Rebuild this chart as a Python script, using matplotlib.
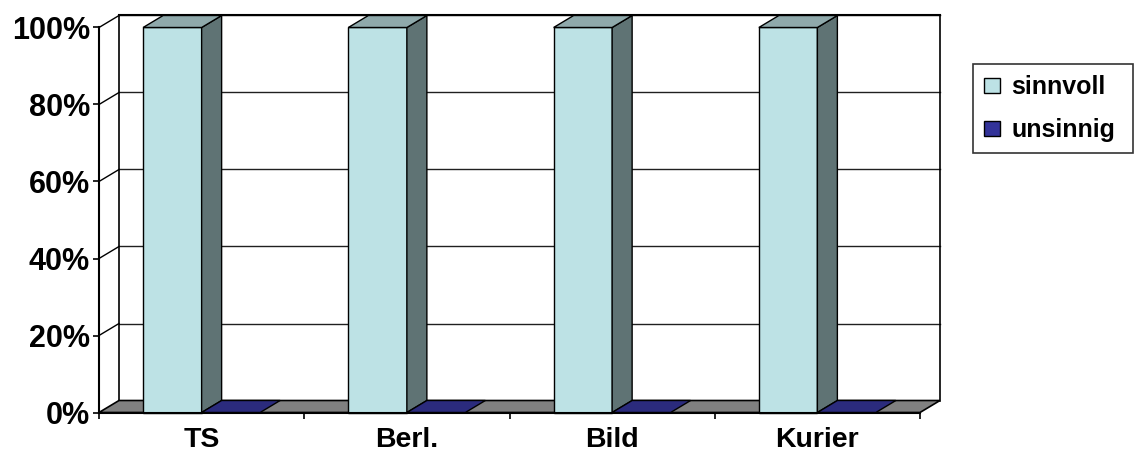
import matplotlib
matplotlib.use("Agg")
import matplotlib.pyplot as plt
from matplotlib.patches import Polygon, Rectangle, Patch
from matplotlib.lines import Line2D

# --- data ---------------------------------------------------------------
categories = ["TS", "Berl.", "Bild", "Kurier"]
series_names = ["sinnvoll", "unsinnig"]
sinnvoll = [100, 100, 100, 100]
unsinnig = [0, 0, 0, 0]
y_ticks = [0, 20, 40, 60, 80, 100]
y_tick_labels = ["0%", "20%", "40%", "60%", "80%", "100%"]

# --- styling ------------------------------------------------------------
FONT = "Liberation Sans"
front_colors = ["#BDE2E5", "#333399"]
side_colors = ["#5F7374", "#22225E"]
top_colors = ["#8FA9AB", "#2B2B7D"]
floor_color = "#808080"
GAP = 0.215          # gap on each side of a bar group, in category units
BAR_W = 0.285        # bar width, in category units
DEPTH_PX = (20, 12)  # 3-D depth offset in pixels (right, up)

W, H, DPI = 1135, 461, 100
fig = plt.figure(figsize=(W / DPI, H / DPI), dpi=DPI)
fig.patch.set_facecolor("white")

left_px, right_px, top_px, bottom_px = 99, 920, 27.5, 412.5
ax = fig.add_axes([left_px / W, (H - bottom_px) / H,
                   (right_px - left_px) / W, (bottom_px - top_px) / H])
ax.set_xlim(0, len(categories))
ax.set_ylim(0, 100)
ax.patch.set_visible(False)

# depth offset in data units
DX = DEPTH_PX[0] / (right_px - left_px) * len(categories)
DY = DEPTH_PX[1] / (bottom_px - top_px) * 100
n = len(categories)

# back wall grid lines and outline
for y in y_ticks[1:]:
    ax.add_line(Line2D([DX, n + DX], [y + DY, y + DY], color="#202020",
                       lw=1.0, clip_on=False, zorder=1))
    # diagonals across the left side wall
    ax.add_line(Line2D([0, DX], [y, y + DY], color="black",
                       lw=1.0, clip_on=False, zorder=1))
ax.add_line(Line2D([DX, DX], [DY, 100 + DY], color="black", lw=1.2,
                   clip_on=False, zorder=1))
ax.add_line(Line2D([n + DX, n + DX], [DY, 100 + DY], color="black", lw=1.2,
                   clip_on=False, zorder=1))
ax.add_line(Line2D([DX, n + DX], [100 + DY, 100 + DY], color="black", lw=1.5,
                   clip_on=False, zorder=1))

# floor
ax.add_patch(Polygon([(0, 0), (n, 0), (n + DX, DY), (DX, DY)], closed=True,
                     facecolor=floor_color, edgecolor="black", lw=1.2,
                     clip_on=False, zorder=2))


def draw_bar(x0, v, k):
    x1 = x0 + BAR_W
    kw = dict(edgecolor="black", lw=1.0, clip_on=False, zorder=3,
              joinstyle="miter")
    if v > 0:
        ax.add_patch(Rectangle((x0, 0), BAR_W, v, facecolor=front_colors[k], **kw))
        ax.add_patch(Polygon([(x1, 0), (x1 + DX, DY), (x1 + DX, v + DY), (x1, v)],
                             closed=True, facecolor=side_colors[k], **kw))
    ax.add_patch(Polygon([(x0, v), (x1, v), (x1 + DX, v + DY), (x0 + DX, v + DY)],
                         closed=True, facecolor=top_colors[k], **kw))


for i in range(n):
    draw_bar(i + GAP, sinnvoll[i], 0)
    draw_bar(i + GAP + BAR_W, unsinnig[i], 1)

# axes, ticks and labels
for s in ["top", "right"]:
    ax.spines[s].set_visible(False)
ax.spines["left"].set_linewidth(1.5)
ax.spines["bottom"].set_linewidth(1.5)
ax.spines["left"].set_zorder(4)
ax.spines["bottom"].set_zorder(4)

ax.set_yticks(y_ticks)
ax.set_yticklabels(y_tick_labels, fontfamily=FONT, fontweight="bold", fontsize=22)
ax.tick_params(axis="y", direction="out", length=4.5, width=1.2, pad=2)

ax.set_xticks(range(n + 1))
ax.set_xticklabels([])
ax.tick_params(axis="x", which="major", direction="out", length=4.5, width=1.2)
ax.set_xticks([i + 0.5 for i in range(n)], minor=True)
ax.set_xticklabels(categories, minor=True, fontfamily=FONT, fontweight="bold",
                   fontsize=20.5)
ax.tick_params(axis="x", which="minor", length=0, pad=10.5)

# legend
handles = [Patch(facecolor=front_colors[0], edgecolor="black", lw=1.0),
           Patch(facecolor=front_colors[1], edgecolor="black", lw=1.0)]
leg = fig.legend(handles, series_names, loc="upper left",
                 bbox_to_anchor=(973 / W, 1 - 64 / H, 160 / W, 0.0),
                 mode="expand", ncols=1,
                 prop={"family": FONT, "weight": "bold", "size": 18},
                 handlelength=0.64, handleheight=0.56, handletextpad=0.45,
                 labelspacing=0.75, borderpad=0.45, borderaxespad=0,
                 fancybox=False, frameon=True)
leg.get_frame().set_edgecolor("black")
leg.get_frame().set_linewidth(1.2)

fig.savefig("out.png", dpi=DPI)
